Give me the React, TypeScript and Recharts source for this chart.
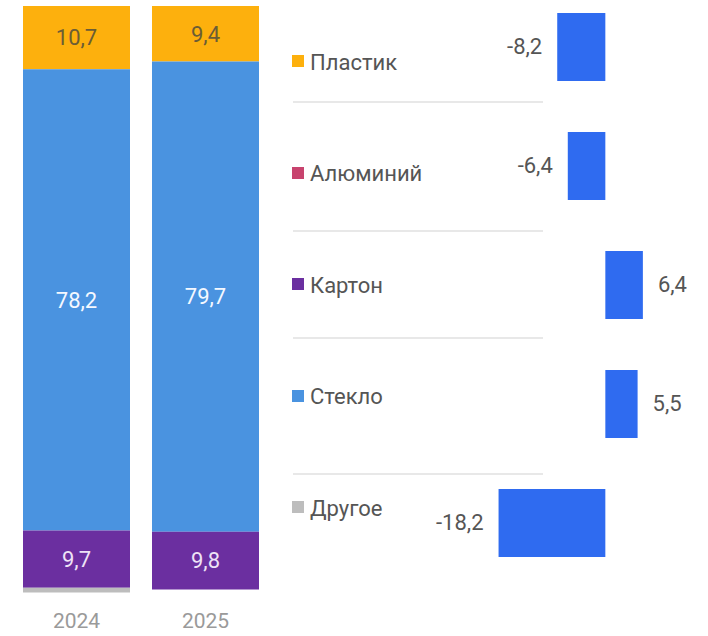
import { Bar, BarChart, LabelList, XAxis, YAxis } from "recharts";

const years = ["2024", "2025"];
const materials = ["Пластик", "Алюминий", "Картон", "Стекло", "Другое"];
const plastic = [10.7, 9.4];
const aluminium = [0, 0];
const glass = [78.2, 79.7];
const carton = [9.7, 9.8];
const other = [0.8, 0];
const change = [-8.2, -6.4, 6.4, 5.5, -18.2];

const colors: Record<string, string> = {
  Пластик: "#FDB00D",
  Алюминий: "#C8436E",
  Картон: "#6B2FA0",
  Стекло: "#4A93E0",
  Другое: "#BDBDBD",
};
const changeColor = "#2F6BF0";
const font = "Roboto, 'Noto Sans', sans-serif";
const fs = 22;

const stackData = years.map((year, i) => ({
  year,
  plastic: plastic[i],
  aluminium: aluminium[i],
  glass: glass[i],
  carton: carton[i],
  other: other[i],
}));

const changeData = materials.map((name, i) => ({ name, value: change[i] }));

const fmt = (v: number) => v.toFixed(1).replace(".", ",");

// layout only
const separatorTops = [101, 230, 337, 473];

function ChangeLabel(props: any) {
  const { x, y, width, height, value } = props;
  const left = Math.min(x, x + width);
  const right = Math.max(x, x + width);
  const neg = value < 0;
  return (
    <text
      x={neg ? left - 15 : right + 15}
      y={y + height / 2 + 1}
      textAnchor={neg ? "end" : "start"}
      dominantBaseline="middle"
      fill="#555"
      fontSize={fs}
      fontFamily={font}
    >
      {fmt(value)}
    </text>
  );
}

export default function App() {
  return (
    <div
      style={{
        position: "absolute",
        left: 0,
        top: 0,
        width: 708,
        height: 636,
        background: "#fff",
        overflow: "hidden",
        fontFamily: font,
      }}
    >
      <div style={{ position: "absolute", left: 0, top: 0 }}>
        <BarChart
          width={282}
          height={636}
          data={stackData}
          margin={{ top: 6, right: 12, left: 12, bottom: 0 }}
          barSize={107}
        >
          <XAxis
            dataKey="year"
            axisLine={false}
            tickLine={false}
            height={40}
            tickMargin={11}
            tick={{ fill: "#9a9a9a", fontSize: fs - 1, fontFamily: font }}
          />
          <YAxis hide reversed domain={[0, 100]} />
          <Bar dataKey="plastic" stackId="a" fill={colors["Пластик"]} isAnimationActive={false}>
            <LabelList dataKey="plastic" position="center" formatter={(v: any) => fmt(v)} fill="#6b5d35" fontSize={fs} fontFamily={font} />
          </Bar>
          <Bar dataKey="aluminium" stackId="a" fill={colors["Алюминий"]} isAnimationActive={false} />
          <Bar dataKey="glass" stackId="a" fill={colors["Стекло"]} isAnimationActive={false}>
            <LabelList dataKey="glass" position="center" formatter={(v: any) => fmt(v)} fill="#f4f8ff" fontSize={fs} fontFamily={font} />
          </Bar>
          <Bar dataKey="carton" stackId="a" fill={colors["Картон"]} isAnimationActive={false}>
            <LabelList dataKey="carton" position="center" formatter={(v: any) => fmt(v)} fill="#eee2f6" fontSize={fs} fontFamily={font} />
          </Bar>
          <Bar dataKey="other" stackId="a" fill={colors["Другое"]} isAnimationActive={false} />
        </BarChart>
      </div>

      {materials.map((m, i) => (
        <div
          key={m}
          style={{
            position: "absolute",
            left: 292,
            top: 62 + i * 111.5 - 14,
            height: 28,
            display: "flex",
            alignItems: "center",
            fontSize: fs,
            color: "#555",
            whiteSpace: "nowrap",
          }}
        >
          <span style={{ width: 12, height: 12, background: colors[m], marginRight: 6, marginTop: -2 }} />
          {m}
        </div>
      ))}

      {separatorTops.map((t) => (
        <div
          key={t}
          style={{ position: "absolute", left: 293, top: t, width: 250, height: 2, background: "#e8e8e8" }}
        />
      ))}

      <div style={{ position: "absolute", left: 420, top: -13 }}>
        <BarChart
          width={288}
          height={595}
          layout="vertical"
          data={changeData}
          margin={{ top: 0, right: 44, left: 68, bottom: 0 }}
          barSize={68}
        >
          <XAxis type="number" hide domain={[-20, 10]} />
          <YAxis type="category" dataKey="name" hide />
          <Bar dataKey="value" fill={changeColor} isAnimationActive={false}>
            <LabelList dataKey="value" content={ChangeLabel} />
          </Bar>
        </BarChart>
      </div>
    </div>
  );
}
